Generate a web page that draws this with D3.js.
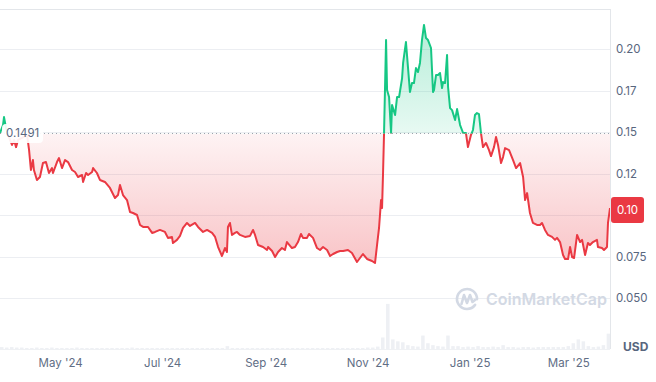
<!DOCTYPE html>
<html><head><meta charset="utf-8">
<script src="https://cdn.jsdelivr.net/npm/d3@7"></script>
<style>
html,body{margin:0;padding:0;background:#fff;}
svg{display:block;font-family:Inter,"Noto Sans",sans-serif;}
</style></head><body>
<svg id="c" width="656" height="382"></svg>
<script>
// ---------- data ----------
const startDay = "2024-03-26";
const endDay = "2025-03-26";
// days since startDay
const dayOffsets = [0,1.8,2.4,3.6,4.8,7.2,8.4,9.6,10.8,13.2,16.2,17.4,18.5,19.7,20.3,22.1,23.9,25.7,27.5,29.3,31.1,31.7,34.1,35.3,37.1,38.9,40.7,43.1,44.9,46.7,49.1,49.7,51.5,52.7,55.1,55.7,58.0,59.8,62.8,65.8,68.8,70.6,71.8,73.6,76.0,77.8,79.6,82.0,83.8,85.6,88.6,91.0,92.8,95.7,98.7,100.5,102.9,103.5,105.9,107.7,109.5,111.9,113.7,116.7,118.5,121.5,123.9,126.9,128.7,130.5,132.8,134.6,135.8,136.4,137.6,138.8,140.6,141.8,143.6,146.6,149.6,151.4,152.6,154.4,157.4,159.8,160.4,162.8,164.6,166.4,168.7,170.5,171.7,174.7,176.5,178.3,180.1,181.3,183.7,184.9,187.3,189.7,191.5,193.3,195.7,197.5,199.3,201.7,203.5,205.3,208.2,210.6,213.6,215.4,217.2,219.6,222.6,224.4,225.6,226.8,228.0,228.6,229.2,229.8,231.0,231.6,232.8,234.0,234.6,236.4,237.6,238.8,240.6,241.2,242.9,244.1,245.3,246.5,247.7,248.9,250.1,251.3,252.5,253.7,254.9,256.1,257.9,259.1,259.7,260.9,262.1,263.3,264.5,265.1,266.3,267.5,268.1,269.3,270.5,272.3,273.5,275.3,277.1,278.8,280.0,281.8,283.0,284.2,285.4,286.6,287.8,289.0,290.8,292.6,293.8,295.6,296.8,298.0,299.8,301.0,302.2,304.6,307.0,308.8,311.2,313.0,314.2,315.4,317.1,318.9,321.3,323.1,324.3,326.1,327.9,330.3,332.1,333.3,335.1,336.9,338.1,339.9,341.1,342.3,343.5,345.3,347.1,348.3,350.1,351.8,353.0,354.8,357.2,357.8,360.2,361.4,363.2,363.8,365.0];
const prices = [0.1494,0.1542,0.1590,0.1524,0.1482,0.1422,0.1452,0.1409,0.1452,0.1464,0.1482,0.1391,0.1271,0.1331,0.1271,0.1211,0.1229,0.1313,0.1319,0.1253,0.1283,0.1253,0.1319,0.1343,0.1283,0.1331,0.1319,0.1271,0.1259,0.1229,0.1241,0.1199,0.1253,0.1241,0.1259,0.1283,0.1253,0.1211,0.1199,0.1163,0.1102,0.1120,0.1181,0.1120,0.1090,0.1018,0.1012,0.1000,0.0940,0.0928,0.0928,0.0892,0.0898,0.0910,0.0898,0.0862,0.0868,0.0831,0.0850,0.0874,0.0922,0.0952,0.0934,0.0952,0.0928,0.0898,0.0910,0.0892,0.0868,0.0807,0.0753,0.0801,0.0777,0.0928,0.0952,0.0880,0.0892,0.0898,0.0880,0.0868,0.0874,0.0910,0.0880,0.0819,0.0807,0.0789,0.0807,0.0783,0.0747,0.0777,0.0801,0.0789,0.0837,0.0801,0.0807,0.0837,0.0886,0.0862,0.0862,0.0886,0.0862,0.0801,0.0789,0.0807,0.0789,0.0753,0.0765,0.0777,0.0783,0.0783,0.0789,0.0771,0.0717,0.0741,0.0765,0.0735,0.0723,0.0711,0.0819,0.0922,0.1090,0.1042,0.1253,0.1494,0.2054,0.1753,0.1711,0.1494,0.1663,0.1602,0.1711,0.1711,0.1825,0.1916,0.2042,0.1892,0.1741,0.1795,0.1795,0.1885,0.1861,0.1916,0.2054,0.2145,0.2066,0.2054,0.2006,0.1741,0.1753,0.1843,0.1843,0.1855,0.1765,0.1801,0.1795,0.1964,0.1771,0.1644,0.1632,0.1572,0.1638,0.1542,0.1494,0.1494,0.1409,0.1482,0.1512,0.1602,0.1614,0.1608,0.1494,0.1409,0.1434,0.1391,0.1355,0.1409,0.1470,0.1422,0.1313,0.1349,0.1403,0.1391,0.1331,0.1283,0.1313,0.1229,0.1090,0.1132,0.1012,0.0952,0.0940,0.0940,0.0952,0.0910,0.0880,0.0868,0.0850,0.0862,0.0837,0.0759,0.0735,0.0735,0.0807,0.0747,0.0741,0.0880,0.0837,0.0850,0.0759,0.0831,0.0819,0.0837,0.0850,0.0807,0.0801,0.0789,0.0807,0.0952,0.1042];
const baselinePrice = 0.1491;
const baselineLabel = "0.1491";
const lastPriceLabel = "0.10";
const yTickValues = [0.2,0.175,0.15,0.125,0.1,0.075,0.05];
const yTickLabels = ["0.20","0.17","0.15","0.12","0.10","0.075","0.050"];
const xTickDates = ["2024-05-01","2024-07-01","2024-09-01","2024-11-01","2025-01-01","2025-03-01"];
const xTickLabels = ["May '24","Jul '24","Sep '24","Nov '24","Jan '25","Mar '25"];
const currencyLabel = "USD";
const watermarkText = "CoinMarketCap";
const volumeStepDays = 3;
const volumes = [4,3,4,3,3,2,2,3,2,2, 3,2,2,2,2,3,2,2,2,2, 2,2,2,2,2,2,3,2,2,2, 2,2,2,2,2,2,2,2,2,2, 2,2,2,2,2,6,2,2,2,2, 2,2,2,2,2,2,2,2,2,2, 2,2,2,2,2,2,2,2,2,2, 2,2,2,3,3,5,24,94,20,16, 14,8,6,5,28,12,8,6,5,28, 6,6,4,5,4,6,4,4,5,4, 8,4,4,3,4,4,3,4,4,4, 4,4,4,6,12,20,16,6,4,5, 8,32];

// ---------- chart ----------
const svg = d3.select("#c");
const W = 610, TOP = 9, BOTTOM = 349;
const parse = d3.timeParse("%Y-%m-%d");
const t0 = parse(startDay);
const dayDate = d => new Date(t0.getTime() + d * 864e5);
const data = dayOffsets.map((d, i) => ({date: dayDate(d), v: prices[i]}));

const x = d3.scaleTime().domain([t0, parse(endDay)]).range([0, W]);
const y = d3.scaleLinear().domain([0.05, 0.2]).range([298, 49]);
const yv = d3.scaleLinear().domain([0, 100]).range([BOTTOM, BOTTOM - 48]);
const red = "#ea3943", green = "#16c784";

const defs = svg.append("defs");
const yb = y(baselinePrice);
defs.append("clipPath").attr("id", "above").append("rect").attr("x", 0).attr("y", 0).attr("width", W).attr("height", yb);
defs.append("clipPath").attr("id", "below").append("rect").attr("x", 0).attr("y", yb).attr("width", W).attr("height", BOTTOM - yb);
const gr = defs.append("linearGradient").attr("id", "gRed").attr("gradientUnits", "userSpaceOnUse")
  .attr("x1", 0).attr("x2", 0).attr("y1", yb).attr("y2", y(0.07));
gr.append("stop").attr("offset", 0).attr("stop-color", red).attr("stop-opacity", 0.06);
gr.append("stop").attr("offset", 1).attr("stop-color", red).attr("stop-opacity", 0.30);
const gg = defs.append("linearGradient").attr("id", "gGreen").attr("gradientUnits", "userSpaceOnUse")
  .attr("x1", 0).attr("x2", 0).attr("y1", yb).attr("y2", y(0.215));
gg.append("stop").attr("offset", 0).attr("stop-color", green).attr("stop-opacity", 0.10);
gg.append("stop").attr("offset", 1).attr("stop-color", green).attr("stop-opacity", 0.32);

// gridlines
svg.append("g").selectAll("line").data(yTickValues).join("line")
  .attr("x1", 0).attr("x2", W).attr("y1", d => Math.round(y(d)) + 0.5).attr("y2", d => Math.round(y(d)) + 0.5)
  .attr("stroke", "#eceef2").attr("stroke-width", 1);

// volume bars
const bw = x(dayDate(volumeStepDays)) - x(t0);
svg.append("g").selectAll("rect").data(volumes).join("rect")
  .attr("x", (d, i) => x(dayDate(i * volumeStepDays)))
  .attr("width", bw * 0.7)
  .attr("y", d => yv(d)).attr("height", d => BOTTOM - yv(d))
  .attr("fill", "#eef0f4");

// watermark
const wm = svg.append("g").attr("transform", "translate(467,299)").attr("fill", "none").attr("stroke", "#d3d9e4").attr("stroke-width", 2.6).attr("stroke-linecap", "round").attr("stroke-linejoin", "round");
wm.append("path").attr("d", d3.arc()({innerRadius: 10, outerRadius: 10, startAngle: 2.2, endAngle: 2 * Math.PI + 1.6}));
wm.append("path").attr("d", "M-5.5,5 L-3,-4 L0,4 L3,-4 L5.5,3 L8,1");
svg.append("text").attr("x", 486).attr("y", 305).attr("font-size", 16).attr("font-weight", 600)
  .attr("fill", "#d3d9e4").text(watermarkText);

// areas
const area = d3.area().x(d => x(d.date)).y0(yb).y1(d => y(d.v));
svg.append("path").datum(data).attr("d", area).attr("fill", "url(#gRed)").attr("clip-path", "url(#below)");
svg.append("path").datum(data).attr("d", area).attr("fill", "url(#gGreen)").attr("clip-path", "url(#above)");

// baseline dotted
svg.append("line").attr("x1", 0).attr("x2", W).attr("y1", yb).attr("y2", yb)
  .attr("stroke", "#9aa1ad").attr("stroke-width", 1).attr("stroke-dasharray", "1,3");

// lines
const line = d3.line().x(d => x(d.date)).y(d => y(d.v));
svg.append("path").datum(data).attr("d", line).attr("fill", "none").attr("stroke", red).attr("stroke-width", 2)
  .attr("stroke-linejoin", "round").attr("clip-path", "url(#below)");
svg.append("path").datum(data).attr("d", line).attr("fill", "none").attr("stroke", green).attr("stroke-width", 2)
  .attr("stroke-linejoin", "round").attr("clip-path", "url(#above)");

// frame
svg.append("line").attr("x1", 0).attr("x2", W + 1).attr("y1", TOP + 0.5).attr("y2", TOP + 0.5).attr("stroke", "#e3e6ea");
svg.append("line").attr("x1", W + 0.5).attr("x2", W + 0.5).attr("y1", TOP).attr("y2", BOTTOM).attr("stroke", "#e3e6ea");
svg.append("line").attr("x1", 0).attr("x2", W).attr("y1", BOTTOM + 0.5).attr("y2", BOTTOM + 0.5).attr("stroke", "#eff1f4");

// baseline label
svg.append("rect").attr("x", 2).attr("y", yb - 9.5).attr("width", 41).attr("height", 19).attr("rx", 4).attr("fill", "#fff").attr("fill-opacity", 0.92);
svg.append("text").attr("x", 6).attr("y", yb + 4).attr("font-size", 11.5).attr("fill", "#58667e").text(baselineLabel);

// last price badge position
const last = data[data.length - 1];
const by = y(last.v) + 2;

// y axis (the tick label hidden under the last-price badge is not drawn)
const yAxis = d3.axisRight(y).tickValues(yTickValues).tickFormat((d, i) => yTickLabels[i]).tickSize(0).tickPadding(6);
const gy = svg.append("g").attr("transform", `translate(${W},0)`).call(yAxis);
gy.select(".domain").remove();
gy.selectAll(".tick").filter(d => Math.abs(y(d) - by) < 16).remove();
gy.selectAll("text").attr("font-size", 11.5).attr("fill", "#58667e").attr("font-family", "Inter, sans-serif");

// x axis
const xAxis = d3.axisBottom(x).tickValues(xTickDates.map(parse)).tickFormat((d, i) => xTickLabels[i]).tickSize(0).tickPadding(10);
const gx = svg.append("g").attr("transform", `translate(0,${BOTTOM})`).call(xAxis);
gx.select(".domain").remove();
gx.selectAll("text").attr("font-size", 11.5).attr("fill", "#616e85").attr("font-family", "Inter, sans-serif");

// USD
svg.append("text").attr("x", 623).attr("y", 351).attr("font-size", 12).attr("font-weight", 700).attr("fill", "#58667e").text(currencyLabel);

// last price badge
svg.append("rect").attr("x", W + 1).attr("y", by - 13).attr("width", 33).attr("height", 26).attr("rx", 3).attr("fill", red);
svg.append("text").attr("x", W + 17.5).attr("y", by + 4).attr("text-anchor", "middle").attr("font-size", 11.5).attr("fill", "#fff").text(lastPriceLabel);
</script>
</body></html>
